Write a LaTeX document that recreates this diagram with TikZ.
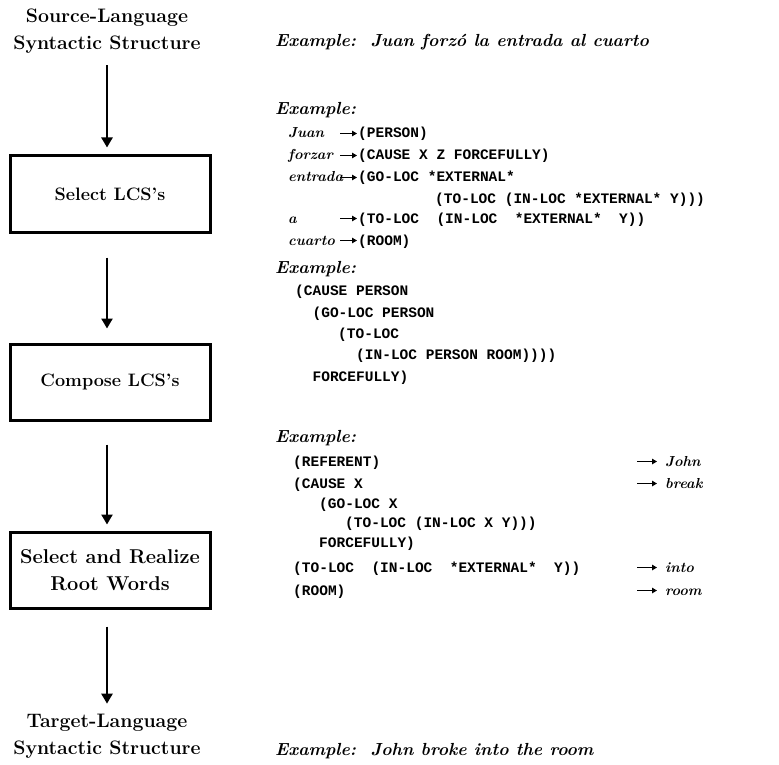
\documentclass[tikz,border=0pt]{standalone}
\usepackage{fontspec}
\newfontfamily\codefont{Liberation Mono}
\usetikzlibrary{arrows.meta}
\tikzset{
 title/.style={font=\fontsize{19.5}{27}\selectfont\bfseries, align=center, inner sep=0pt},
 stage/.style={draw, line width=3pt, minimum width=200pt, minimum height=76pt, font=\fontsize{18}{27}\selectfont\bfseries, align=center, inner sep=0pt},
 flow/.style={line width=2.8pt, -{Triangle[width=11pt,length=10pt]}},
 ex/.style={anchor=base west, inner sep=0pt, font=\fontsize{17.5}{20}\selectfont\bfseries\itshape},
 word/.style={anchor=base west, inner sep=0pt, font=\fontsize{14.5}{20}\selectfont\bfseries\itshape},
 code/.style={anchor=base west, inner sep=0pt, font=\fontsize{14.5}{20}\selectfont\codefont\bfseries},
 sarr/.style={line width=1.8pt, -{Triangle[width=5.5pt,length=5pt]}},
}
\begin{document}
\begin{tikzpicture}[x=1pt,y=-1pt]
\useasboundingbox (0,0) rectangle (779,765);
% left column
\node[title] (src) at (107,31) {Source-Language\\Syntactic Structure};
\node[stage] (b1) at (110,194) {Select LCS's};
\node[stage] (b2) at (110,382) {Compose LCS's};
\node[stage, font=\fontsize{20}{27}\selectfont\bfseries] (b3) at (110,570) {Select and Realize\\Root Words};
\node[title] (tgt) at (107,736) {Target-Language\\Syntactic Structure};
\draw[flow, shorten <=12pt, shorten >=7pt] (src.south) -- ([xshift=-3pt]b1.north);
\draw[flow, shorten <=24pt, shorten >=14pt] ([xshift=-3pt]b1.south) -- ([xshift=-3pt]b2.north);
\draw[flow, shorten <=23pt, shorten >=6pt] ([xshift=-3pt]b2.south) -- ([xshift=-3pt]b3.north);
\draw[flow, shorten <=17pt, shorten >=10pt] ([xshift=-3pt]b3.south) -- (tgt.north);
% example 1
\node[ex] (e1) at (275,47) {Example:\ \ Juan forzó la entrada al cuarto};
% example 2
\node[ex] (e2) at (275,115) {Example:};
\node[word] (w1) at (288,138) {Juan};
\node[word] (w2) at (288,160) {forzar};
\node[word] (w3) at (288,182) {entrada};
\node[word] (w4) at (288,223) {a};
\node[word] (w5) at (288,245) {cuarto};
\node[code] (l1) at (358,138) {(PERSON)};
\node[code] (l2) at (358,160) {(CAUSE X Z FORCEFULLY)};
\node[code] (l3) at (358,182) {(GO-LOC *EXTERNAL*};
\node[code] (l3b) at (435,203) {(TO-LOC (IN-LOC *EXTERNAL* Y)))};
\node[code] (l4) at (358,223) {(TO-LOC\ \ (IN-LOC\ \ *EXTERNAL*\ \ Y))};
\node[code] (l5) at (358,245) {(ROOM)};
\foreach \n in {l1,l2,l3,l4,l5}
  \draw[sarr] ([xshift=-18pt,yshift=4.5pt]\n.base west) -- ([xshift=-1pt,yshift=4.5pt]\n.base west);
% example 3
\node[ex] (e3) at (275,273) {Example:};
\node[code] (c1) at (295,295) {(CAUSE PERSON};
\node[code] (c2) at (312.4,317) {(GO-LOC PERSON};
\node[code] (c3) at (338,338) {(TO-LOC};
\node[code] (c4) at (356,359) {(IN-LOC PERSON ROOM))))};
\node[code] (c5) at (312.4,381) {FORCEFULLY)};
% example 4
\node[ex] (e4) at (275,442) {Example:};
\node[code] (r1) at (293,466) {(REFERENT)};
\node[code] (r2) at (293,488) {(CAUSE X};
\node[code] (r3) at (319,508) {(GO-LOC X};
\node[code] (r4) at (345,527) {(TO-LOC (IN-LOC X Y)))};
\node[code] (r5) at (319,547) {FORCEFULLY)};
\node[code] (r6) at (293,572) {(TO-LOC\ \ (IN-LOC\ \ *EXTERNAL*\ \ Y))};
\node[code] (r7) at (293,595) {(ROOM)};
\node[word] (t1) at (665,466) {John};
\node[word] (t2) at (665,488) {break};
\node[word] (t3) at (665,572) {into};
\node[word] (t4) at (665,595) {room};
\foreach \n in {t1,t2,t3,t4}
  \draw[sarr] ([xshift=-28pt,yshift=4.5pt]\n.base west) -- ([xshift=-8pt,yshift=4.5pt]\n.base west);
% example 5
\node[ex] (e5) at (275,755) {Example:\ \ John broke into the room};
\end{tikzpicture}
\end{document}
